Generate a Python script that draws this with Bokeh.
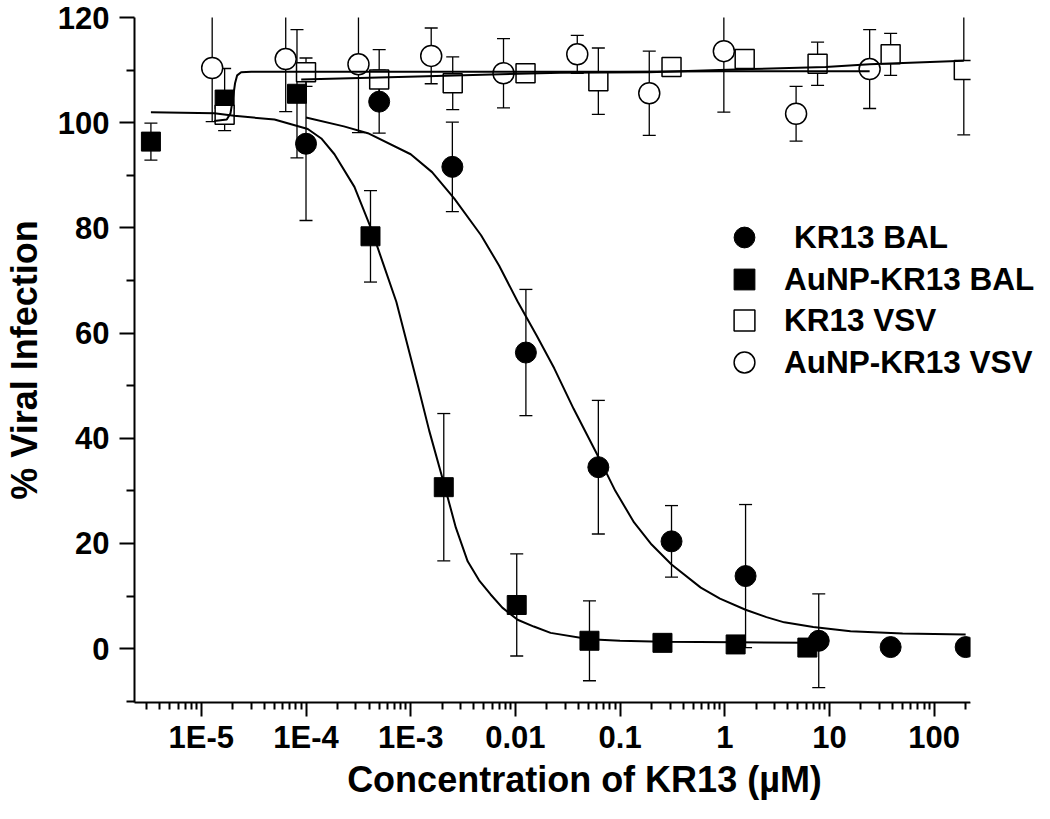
import math
from bokeh.plotting import figure
from bokeh.models import (Range1d, FixedTicker, ColumnDataSource, Legend, LegendItem,
                          CustomJSTickFormatter, BoxAnnotation)
from bokeh.embed import file_html
from bokeh.resources import INLINE

# ---------------- data ----------------
# KR13 BAL (filled circles)
bal_x = [1.0e-4, 5.0e-4, 2.5e-3, 1.26e-2, 6.2e-2, 3.1e-1, 1.58, 7.9, 38.4, 200.0]
bal_y = [96.0, 104.0, 91.6, 56.3, 34.5, 20.4, 13.8, 1.5, 0.3, 0.3]
bal_err = [14.6, 6.0, 8.5, 12.0, 12.7, 6.8, 13.6, 8.9, 0.0, 0.0]

# AuNP-KR13 BAL (filled squares)
np_bal_x = [3.3e-6, 1.67e-5, 8.2e-5, 4.13e-4, 2.07e-3, 1.03e-2, 5.1e-2, 2.54e-1, 1.27, 6.15]
np_bal_y = [96.4, 104.4, 105.5, 78.4, 30.7, 8.3, 1.5, 1.1, 0.8, 0.2]
np_bal_err = [3.5, 5.9, 12.2, 8.7, 14.0, 9.7, 7.6, 0.3, 0.6, 0.5]

# KR13 VSV (open squares)
vsv_x = [1.67e-5, 1.0e-4, 5.0e-4, 2.52e-3, 1.25e-2, 6.2e-2, 3.1e-1, 1.55, 7.7, 38.4, 192.0]
vsv_y = [101.5, 109.6, 108.2, 107.5, 109.4, 107.9, 110.6, 112.1, 111.2, 113.0, 110.0]
vsv_err = [1.0, 2.7, 5.7, 5.0, 1.0, 6.3, 1.0, 0.5, 4.1, 4.0, 12.3]

# AuNP-KR13 VSV (open circles)
np_vsv_x = [1.27e-5, 6.4e-5, 3.17e-4, 1.57e-3, 7.7e-3, 3.9e-2, 1.9e-1, 0.98, 4.8, 24.2]
np_vsv_y = [110.4, 112.1, 111.1, 112.7, 109.4, 113.0, 105.6, 113.6, 101.7, 110.2]
np_vsv_err = [10.2, 10.0, 13.0, 5.3, 6.6, 3.6, 8.0, 11.6, 5.2, 7.5]

# fitted curves, points
fit_bal_x = [1.0e-4, 2.3e-4, 3.9e-4, 1.0e-3, 1.6e-3, 2.6e-3, 4.7e-3, 7.0e-3, 1.05e-2, 1.6e-2,
             2.35e-2, 3.6e-2, 6.2e-2, 9.0e-2, 1.36e-1, 2.0e-1, 3.1e-1, 5.9e-1, 9.0e-1, 1.58,
             2.5, 3.7, 7.0, 15.9, 50.0, 200.0]
fit_bal_y = [101.0, 99.3, 98.0, 94.0, 90.6, 85.6, 78.6, 72.8, 66.0, 59.5,
             53.3, 45.6, 36.5, 30.0, 24.0, 19.8, 16.0, 11.6, 9.5, 7.4,
             6.0, 5.0, 4.1, 3.3, 2.9, 2.7]

fit_np_bal_x = [3.3e-6, 1.33e-5, 2.06e-5, 5.0e-5, 1.04e-4, 1.4e-4, 1.87e-4, 2.9e-4, 4.2e-4,
                5.5e-4, 7.3e-4, 1.17e-3, 1.5e-3, 2.07e-3, 2.7e-3, 3.5e-3, 4.5e-3, 5.8e-3,
                7.5e-3, 1.05e-2, 1.5e-2, 2.17e-2, 5.1e-2, 1.0e-1, 2.54e-1, 1.27, 6.15]
fit_np_bal_y = [102.0, 101.8, 101.3, 100.6, 98.8, 97.0, 94.0, 87.8, 79.8,
                73.0, 65.9, 50.1, 41.5, 31.5, 23.0, 16.6, 13.0, 10.3,
                7.8, 5.5, 4.2, 3.0, 1.8, 1.5, 1.3, 1.2, 1.1]

fit_np_vsv_x = [1.33e-5, 1.75e-5, 1.9e-5, 2.0e-5, 2.1e-5, 2.2e-5, 2.4e-5, 3.0e-5, 1.0e-4,
                1.0e-3, 1.0e-2, 1.0e-1, 1.0, 24.2]
fit_np_vsv_y = [100.3, 100.6, 101.8, 104.5, 107.5, 109.0, 109.6, 109.7, 109.7,
                109.7, 109.7, 109.7, 109.8, 109.8]

fit_vsv_x = [9.0e-5, 1.17e-3, 7.2e-3, 2.7e-2, 1.88e-1, 1.78, 9.2, 24.2, 192.0]
fit_vsv_y = [108.2, 108.8, 109.2, 109.5, 109.6, 110.2, 110.6, 111.1, 111.8]

x_tick_exps = [-5, -4, -3, -2, -1, 0, 1, 2]
x_tick_labels = ["1E-5", "1E-4", "1E-3", "0.01", "0.1", "1", "10", "100"]
y_ticks = [0, 20, 40, 60, 80, 100, 120]
y_minor = [-10, 10, 30, 50, 70, 90, 110]

series_labels = ["KR13 BAL", "AuNP-KR13 BAL", "KR13 VSV", "AuNP-KR13 VSV"]

X_MIN, X_AXIS_MAX = 2.30e-6, 222.8
Y_MIN, Y_MAX = -10.24, 120

FONT = "Liberation Sans"

# ---------------- figure ----------------
# the frame runs on to the right edge so that the legend is not clipped;
# the axis itself stops at X_AXIS_MAX (axis bounds)
W, H = 1034, 803
FRAME_LEFT, FRAME_TOP, FRAME_BOTTOM_BORDER = 133, 17, 101
AXIS_PX = 837.0
dec_per_px = (math.log10(X_AXIS_MAX) - math.log10(X_MIN)) / AXIS_PX
x_frame_max = 10 ** (math.log10(X_MIN) + dec_per_px * (W - FRAME_LEFT))

p = figure(width=W, height=H, x_axis_type="log",
           x_range=Range1d(X_MIN, x_frame_max), y_range=Range1d(Y_MIN, Y_MAX),
           output_backend="svg", toolbar_location=None,
           min_border_left=FRAME_LEFT, min_border_right=0, min_border_top=FRAME_TOP,
           min_border_bottom=FRAME_BOTTOM_BORDER)
p.xgrid.visible = False
p.ygrid.visible = False
p.outline_line_color = None
p.background_fill_color = "white"
p.border_fill_color = "white"


def err_source(xs, ys, es):
    return ColumnDataSource(dict(x=xs, y=ys,
                                 lo=[y - e for y, e in zip(ys, es)],
                                 hi=[y + e for y, e in zip(ys, es)]))


sources = [err_source(bal_x, bal_y, bal_err),
           err_source(np_bal_x, np_bal_y, np_bal_err),
           err_source(vsv_x, vsv_y, vsv_err),
           err_source(np_vsv_x, np_vsv_y, np_vsv_err)]

# error bars first (under markers)
for src in sources:
    p.segment(x0="x", y0="lo", x1="x", y1="hi", source=src, line_color="black", line_width=1.3)
    p.scatter(x="x", y="hi", source=src, marker="dash", size=13, line_color="black", line_width=1.3)
    p.scatter(x="x", y="lo", source=src, marker="dash", size=13, line_color="black", line_width=1.3)

r_bal = p.scatter(x="x", y="y", source=sources[0], marker="circle", size=21,
                  fill_color="black", line_color="black", line_width=1)
r_np_bal = p.scatter(x="x", y="y", source=sources[1], marker="square", size=19,
                     fill_color="black", line_color="black", line_width=1)
r_vsv = p.scatter(x="x", y="y", source=sources[2], marker="square", size=19,
                  fill_color="white", line_color="black", line_width=1.5)
r_np_vsv = p.scatter(x="x", y="y", source=sources[3], marker="circle", size=21,
                     fill_color="white", line_color="black", line_width=1.5)

# fitted curves on top
for cx, cy in [(fit_bal_x, fit_bal_y), (fit_np_bal_x, fit_np_bal_y),
               (fit_np_vsv_x, fit_np_vsv_y), (fit_vsv_x, fit_vsv_y)]:
    p.line(cx, cy, line_color="black", line_width=2)

# the original clips its marks at the end of the x axis
p.add_layout(BoxAnnotation(left=X_AXIS_MAX, bottom=95, fill_color="white", fill_alpha=1,
                           line_alpha=0))
p.add_layout(BoxAnnotation(left=X_AXIS_MAX, top=15, fill_color="white", fill_alpha=1,
                           line_alpha=0))

# ---------------- axes ----------------
x_major = [10.0 ** e for e in x_tick_exps]
x_minor = [m * 10.0 ** k for k in range(-6, 3) for m in range(2, 10) if m * 10.0 ** k <= X_AXIS_MAX]
p.xaxis.ticker = FixedTicker(ticks=x_major, minor_ticks=x_minor)
p.xaxis.bounds = (X_MIN, X_AXIS_MAX)
p.xaxis.formatter = CustomJSTickFormatter(
    args=dict(exps=x_tick_exps, labels=x_tick_labels),
    code="const e = Math.round(Math.log10(tick)); const i = exps.indexOf(e); return i >= 0 ? labels[i] : '';")
p.yaxis.ticker = FixedTicker(ticks=y_ticks, minor_ticks=y_minor)

for ax in (p.xaxis[0], p.yaxis[0]):
    ax.axis_line_width = 2
    ax.major_tick_line_width = 2
    ax.minor_tick_line_width = 2
    ax.major_tick_in = 0
    ax.minor_tick_in = 0
    ax.major_label_text_font = FONT
    ax.major_label_text_font_style = "bold"
    ax.major_label_text_font_size = "31px"
    ax.major_label_text_color = "black"
    ax.axis_label_text_font = FONT
    ax.axis_label_text_font_style = "bold"
    ax.axis_label_text_font_size = "36px"
    ax.axis_label_text_color = "black"

p.xaxis.major_tick_out = 14
p.xaxis.minor_tick_out = 7
p.xaxis.major_label_standoff = 3
p.xaxis.axis_label = "Concentration of KR13 (µM)"
p.xaxis.axis_label_standoff = 1

p.yaxis.major_tick_out = 15
p.yaxis.minor_tick_out = 8
p.yaxis.major_label_standoff = 10
p.yaxis.axis_label = "% Viral Infection"
p.yaxis.axis_label_standoff = 10

# ---------------- legend: one small legend per row ----------------
renderers = [r_bal, r_np_bal, r_vsv, r_np_vsv]
row_bottoms = [439, 397, 356, 314]      # px above the frame bottom
standoffs = [24, 14, 14, 14]
for lab, rend, yb, so in zip(series_labels, renderers, row_bottoms, standoffs):
    lg = Legend(items=[LegendItem(label=lab, renderers=[rend])],
                location=(584, yb), orientation="vertical",
                glyph_width=52, glyph_height=52, label_standoff=so, spacing=0,
                padding=0, margin=0, border_line_alpha=0, background_fill_alpha=0,
                label_text_font=FONT, label_text_font_style="bold",
                label_text_font_size="31.5px", label_text_color="black")
    p.add_layout(lg)

open("out.html", "w").write(file_html(p, INLINE))
